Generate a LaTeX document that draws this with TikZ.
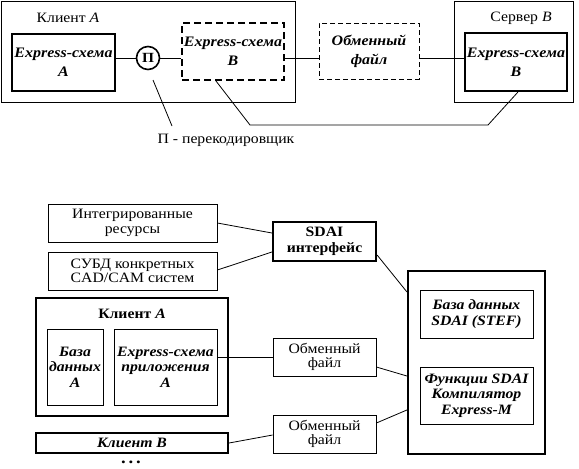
\documentclass[tikz,border=0pt]{standalone}
\usepackage{fontspec}
\setmainfont{Liberation Serif}[FakeStretch=1.1]
\usetikzlibrary{calc}

\begin{document}
\begin{tikzpicture}[
  x=1pt, y=-1pt,
  font=\fontsize{14.3}{14.5}\selectfont,
  box/.style={draw=black, line width=0.8pt, align=center, inner sep=0pt},
  thickbox/.style={box, line width=2.2pt},
  dashbox/.style={box, line width=2pt, dash pattern=on 7pt off 4pt},
  filebox/.style={box, dash pattern=on 5pt off 3pt},
  link/.style={draw=black, line width=0.8pt},
  bi/.style={font=\fontsize{14.3}{15.5}\selectfont\bfseries\itshape},
  bitop/.style={font=\fontsize{14.5}{19}\selectfont\bfseries\itshape},
]
\useasboundingbox (0,0) rectangle (579,469);
% ---------------------------------------------------------------- upper scheme
\node[box, minimum width=294, minimum height=101] (clientA) at (148,51.5) {};
\node (lblA) at (68,18) {Клиент \textit{A}};
\node[thickbox, bitop, minimum width=103, minimum height=57] (schemaA) at (63.5,62.5) {Express-схема\\A};
\node[circle, draw=black, line width=1.6pt, minimum size=23, inner sep=0pt, font=\fontsize{14}{14}\selectfont\bfseries] (recoder) at (148,58) {П};
\node[dashbox, bitop, minimum width=102, minimum height=57] (schemaB) at (233,51.5) {Express-схема\\B};
\node[filebox, bitop, minimum width=100, minimum height=56] (xfile) at (369,51) {Обменный\\файл};

\node[box, minimum width=119, minimum height=101] (server) at (513.5,51.5) {};
\node (lblB) at (521,18) {Сервер \textit{B}};
\node[thickbox, bitop, minimum width=102, minimum height=58] (schemaBsrv) at (516,62) {Express-схема\\B};

\node (legend) at (226,140) {П - перекодировщик};

\draw[link] (schemaA.east |- recoder) -- (recoder);
\draw[link] (recoder) -- (schemaB.west |- recoder);
\draw[link] (schemaB.east |- recoder) -- (xfile.west |- recoder);
\draw[link] (xfile.east |- recoder) -- (schemaBsrv.west |- recoder);
% leader to the recoder and the B-to-B link
\coordinate (lead1) at (153,80);
\coordinate (lead2) at (172,126);
\draw[link] (lead1) -- (lead2);
\draw[link] ($(schemaB.south west)+(35,0)$) -- (250,125) -- (488,125)
  -- ($(schemaBsrv.south west)+(54,0)$);

% ---------------------------------------------------------------- lower scheme
\node[box, minimum width=169, minimum height=38] (intres) at (132.5,223) {Интегрированные\\ресурсы};
\node[box, minimum width=169, minimum height=38] (cadcam) at (132.5,271) {СУБД конкретных\\CAD/CAM систем};
\node[thickbox, font=\fontsize{14.3}{15.5}\selectfont\bfseries, minimum width=103, minimum height=39] (sdai) at (324.5,241.5) {SDAI\\интерфейс};

\node[thickbox, minimum width=137, minimum height=183] (srvbig) at (476.5,362.5) {};
\node[box, bi, minimum width=113, minimum height=48] (sdaidb) at (476.5,314) {База данных\\SDAI (STEF)};
\node[box, bi, minimum width=113, minimum height=57] (sdaifn) at (476.5,395.5) {Функции SDAI\\Компилятор\\Express-M};

\node[thickbox, minimum width=192, minimum height=118] (clientA2) at (132,357) {};
\node[font=\fontsize{14.3}{15.5}\selectfont\bfseries] (lblA2) at (132,314) {Клиент \textit{A}};
\node[box, bi, minimum width=56, minimum height=76] (dbA) at (75,367) {База\\данных\\A};
\node[box, bi, minimum width=103, minimum height=76] (appA) at (165.5,367) {Express-схема\\приложения\\A};

\node[box, minimum width=103, minimum height=38] (file1) at (324.5,357) {Обменный\\файл};
\node[box, minimum width=103, minimum height=38] (file2) at (324.5,434) {Обменный\\файл};

\node[thickbox, bi, minimum width=192, minimum height=20] (clientB) at (132,443) {Клиент В};
\node[font=\fontsize{17}{17}\selectfont\bfseries] (more) at (131,462) {.\,.\,.};

\draw[link] (intres.east) -- ($(sdai.west)+(0,-8.5)$);
\draw[link] ($(cadcam.east)+(0,-1)$) -- ($(sdai.west)+(0,10.5)$);
\draw[link] ($(sdai.east)+(0,13.5)$) -- ($(srvbig.north west)+(0,22)$);
\draw[link] ($(appA.east)+(0,-10)$) -- (file1.west);
\draw[link] ($(file1.east)+(0,10)$) -- ($(srvbig.west)+(0,13.5)$);
\draw[link] ($(file2.east)+(0,-11)$) -- ($(srvbig.west)+(0,47.5)$);
\draw[link] (clientB.east) -- ($(file2.west)+(0,1)$);
\end{tikzpicture}
\end{document}
